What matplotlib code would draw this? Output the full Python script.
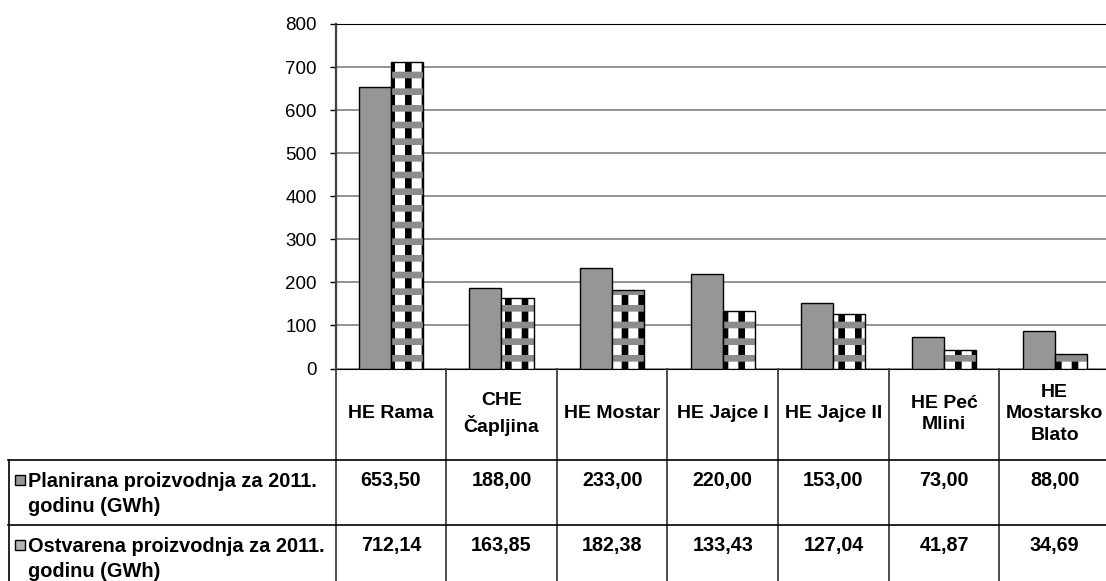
import matplotlib
matplotlib.use("Agg")
import matplotlib.pyplot as plt
import matplotlib.transforms as mtransforms
from matplotlib.patches import Rectangle
from matplotlib.lines import Line2D
import numpy as np

plt.rcParams['font.family'] = ['Liberation Sans', 'DejaVu Sans']
plt.rcParams['hatch.linewidth'] = 4.8

categories = ['HE Rama', 'CHE\nČapljina', 'HE Mostar', 'HE Jajce I', 'HE Jajce II',
              'HE Peć\nMlini', 'HE\nMostarsko\nBlato']
planned = [653.50, 188.00, 233.00, 220.00, 153.00, 73.00, 88.00]
realized = [712.14, 163.85, 182.38, 133.43, 127.04, 41.87, 34.69]
series_names = ['Planirana proizvodnja za 2011.\ngodinu (GWh)',
                'Ostvarena proizvodnja za 2011.\ngodinu (GWh)']
yticks = [0, 100, 200, 300, 400, 500, 600, 700, 800]

W, H = 1106, 581


def fx(x):
    return x / W


def fy(y):
    return 1 - y / H


fig = plt.figure(figsize=(W / 100, H / 100), dpi=100)
ax = fig.add_axes([fx(335.5), fy(368.5), (1110 - 335.5) / W, (368.5 - 24) / H])

x = np.arange(len(categories))
bw = 0.29
ax.bar(x - bw / 2, planned, bw, color='#969696', edgecolor='black', lw=1, zorder=3)
# checker-like pattern: black vertical stripes, gray horizontal bands
ax.bar(x + bw / 2, realized, bw, color='white', edgecolor='black', hatch='|', lw=0, zorder=3)
ax.bar(x + bw / 2, realized, bw, fill=False, edgecolor='#8c8c8c', hatch='-', lw=0, zorder=3)
ax.bar(x + bw / 2, realized, bw, fill=False, edgecolor='black', lw=1, zorder=4)

ax.set_xlim(-0.5, len(categories) - 0.5)
ax.set_ylim(0, 800)
ax.set_yticks(yticks)
ax.tick_params(axis='y', labelsize=13.5, length=4.5, width=1, pad=9, direction='out')
ax.set_xticks([])
ax.yaxis.grid(True, color='#808080', lw=1.2, zorder=0)
ax.set_axisbelow(True)
ax.spines['right'].set_visible(False)
ax.spines['top'].set_color('black')
ax.spines['left'].set_color('#404040')
ax.spines['left'].set_linewidth(1.6)
ax.spines['bottom'].set_color('black')

# data table under the chart
tr = mtransforms.blended_transform_factory(ax.transData, fig.transFigure)
row_top = [460, 525]
for xs in np.arange(-0.5, len(categories), 1.0):
    fig.add_artist(Line2D([xs, xs], [fy(368.5), fy(581)], transform=tr,
                          color='#404040', lw=1.3))
for yy in row_top:
    fig.add_artist(Line2D([fx(8), 1], [fy(yy), fy(yy)], transform=fig.transFigure,
                          color='black', lw=1.2))
fig.add_artist(Line2D([fx(8.5), fx(8.5)], [fy(460), 0], transform=fig.transFigure,
                      color='black', lw=1.2))

for i, cat in enumerate(categories):
    fig.text(i, fy(414), cat, transform=tr, ha='center', va='center',
             fontsize=14, fontweight='bold', linespacing=1.35)
    for yy, val in zip(row_top, [planned[i], realized[i]]):
        fig.text(i, fy(yy + 11), f'{val:.2f}'.replace('.', ','), transform=tr,
                 ha='center', va='top', fontsize=14.2, fontweight='bold')

for yy, name, k in zip(row_top, series_names, range(2)):
    fig.text(fx(28), fy(yy + 12), name, ha='left', va='top', fontsize=14.4,
             fontweight='bold', linespacing=1.4)
    sq = Rectangle((fx(15), fy(yy + 25)), 10 / W, 10 / H, transform=fig.transFigure,
                   facecolor='#969696' if k == 0 else '#b4b4b4', edgecolor='black', lw=1)
    fig.add_artist(sq)

fig.savefig('out.png', dpi=100)
